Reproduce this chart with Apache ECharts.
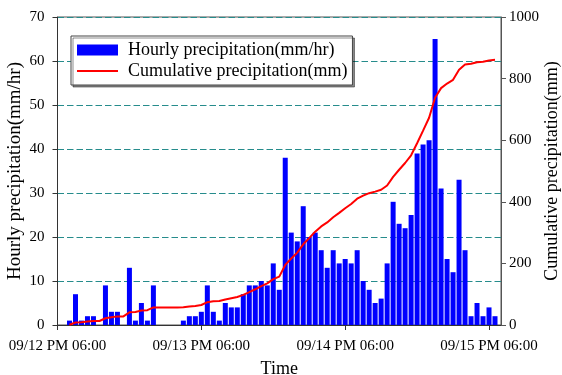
<!DOCTYPE html>
<html>
	<head>
		<title>Precipitation</title>
		<meta charset="utf-8"/>
		<style type="text/css">
			*{margin: 0;padding: 0;}
			html,body{width: 562px;height: 375px;background-color: #fff;}
			.chart{width: 562px;height: 375px;}
		</style>
		<script type="text/javascript" src="https://cdn.jsdelivr.net/npm/echarts@6/dist/echarts.min.js"></script>
	</head>
	<body>
		<div class="chart js-chart"></div>
		<script type="text/javascript">
			// hours after 09/12 PM 06:00, one category per hour (0..74)
			var hourCount=75;
			var tickLabels=["09/12 PM 06:00","09/13 PM 06:00","09/14 PM 06:00","09/15 PM 06:00"];
			// hourly precipitation (mm/hr), from hour 2 to hour 73
			var hourly=[1,7,1,2,2,0,9,3,3,0,13,1,5,1,9,
				0,0,0,0,
				1,2,2,3,9,3,1,5,4,4,
				7,9,9,10,9,14,8,
				38,21,19,27,20,21,17,13,17,14,15,14,17,
				10,8,5,6,14,28,23,22,25,39,41,42,
				65,31,15,12,33,17,2,5,2,4,2];
			// cumulative precipitation (mm), same hours
			var cumulative=[1,8,9,11,13,13,22,25,28,28,41,42,47,48,57,
				57,57,57,57,
				58,60,62,65,74,77,78,83,87,91,
				98,107,116,126,135,149,157,
				195,216,235,262,282,303,320,333,350,364,379,393,410,
				420,428,433,439,453,481,504,526,551,590,631,673,
				738,769,784,796,829,846,848,853,855,859,861];
			var firstHour=2;

			var categories=[],barData=[],lineData=[];
			for(var i=0;i<hourCount;i++){
				categories.push(String(i));
				var k=i-firstHour;
				if(k>=0 && k<hourly.length){
					barData.push(hourly[k]);
					lineData.push(cumulative[k]);
				}else{
					barData.push("-");
					lineData.push("-");
				}
			}

			var font="'Liberation Serif','Times New Roman',serif";
			var chart=echarts.init(document.querySelector(".js-chart"));
			var option={
				animation:false,
				textStyle:{fontFamily:font},
				grid:{
					left:57.5,right:61,top:17,bottom:50,
					containLabel:false,
					outerBoundsMode:"none",
					show:true,borderColor:"#555",borderWidth:1
				},
				legend:{
					orient:"vertical",
					left:71,top:36,
					padding:[5,5,5,5],
					itemGap:3,
					itemWidth:41,itemHeight:11,
					backgroundColor:"#fff",
					borderColor:"#444",borderWidth:1,
					shadowColor:"rgba(0,0,0,0.45)",shadowOffsetX:2,shadowOffsetY:2,shadowBlur:0,
					textStyle:{fontFamily:font,fontSize:18,color:"#000",padding:[0,0,0,5]},
					data:[
						{name:"Hourly precipitation(mm/hr)",icon:"rect"},
						{name:"Cumulative precipitation(mm)",itemStyle:{opacity:0}}
					]
				},
				xAxis:{
					type:"category",
					data:categories,
					boundaryGap:false,
					name:"Time",
					nameLocation:"middle",
					nameGap:35,
					nameMoveOverlap:false,
					nameTextStyle:{fontFamily:font,fontSize:18,color:"#000"},
					axisLine:{lineStyle:{color:"#333",width:1}},
					axisTick:{interval:23,length:5,lineStyle:{color:"#333"}},
					axisLabel:{
						interval:23,margin:14,
						fontFamily:font,fontSize:15,color:"#000",
						formatter:function(v,idx){
							var n=Number(v);
							return n%24===0?tickLabels[n/24]:"";
						}
					},
					splitLine:{show:false}
				},
				yAxis:[
					{
						type:"value",
						min:0,max:70,interval:10,
						name:"Hourly precipitation(mm/hr)",
						nameLocation:"middle",
						nameGap:33,
						nameRotate:90,
						nameMoveOverlap:false,
						nameTextStyle:{fontFamily:font,fontSize:19,color:"#000"},
						axisLine:{show:true,lineStyle:{color:"#333"}},
						axisTick:{show:true,length:5,lineStyle:{color:"#333"}},
						axisLabel:{margin:13,fontFamily:font,fontSize:15,color:"#000"},
						splitLine:{show:true,lineStyle:{color:"#268c8c",type:[6.5,3],width:1}}
					},
					{
						type:"value",
						min:0,max:1000,interval:200,
						position:"right",
						name:"Cumulative precipitation(mm)",
						nameLocation:"middle",
						nameGap:42,
						nameRotate:90,
						nameMoveOverlap:false,
						nameTextStyle:{fontFamily:font,fontSize:18,color:"#000"},
						axisLine:{show:true,lineStyle:{color:"#555"}},
						axisTick:{show:true,length:5,lineStyle:{color:"#555"}},
						axisLabel:{margin:8,fontFamily:font,fontSize:15,color:"#000",
							formatter:function(v){return String(v);}},
						splitLine:{show:false}
					}
				],
				series:[
					{
						name:"Hourly precipitation(mm/hr)",
						type:"bar",
						yAxisIndex:0,
						barWidth:5,
						itemStyle:{color:"#0000ff"},
						data:barData
					},
					{
						name:"Cumulative precipitation(mm)",
						type:"line",
						yAxisIndex:1,
						symbol:"none",
						lineStyle:{color:"#ff0000",width:2},
						itemStyle:{color:"#ff0000"},
						data:lineData
					}
				]
			};
			chart.setOption(option);
		</script>
	</body>
</html>
